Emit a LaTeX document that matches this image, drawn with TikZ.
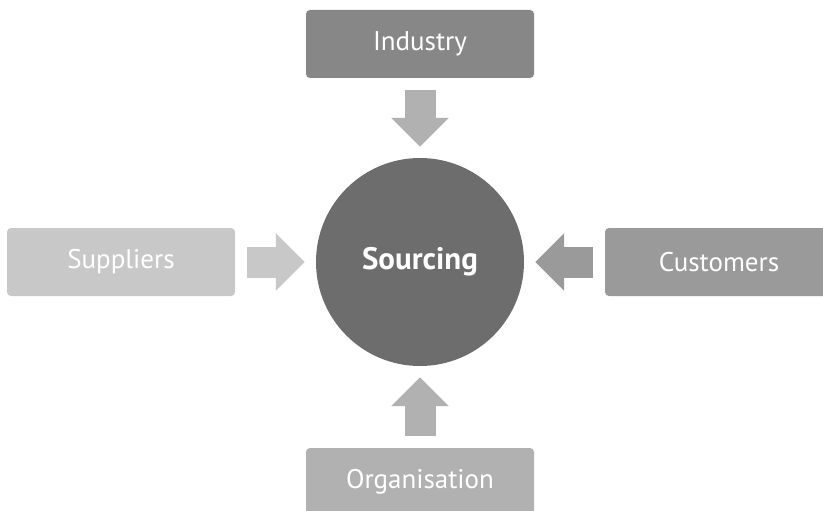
\documentclass[tikz,border=0pt]{standalone}
\usepackage{fontspec}
\setmainfont{PT Sans}
\usetikzlibrary{arrows.meta}

\definecolor{hubgray}{HTML}{6D6D6D}
\definecolor{indgray}{HTML}{878787}
\definecolor{cusgray}{HTML}{9A9A9A}
\definecolor{orggray}{HTML}{B1B1B1}
\definecolor{supgray}{HTML}{C8C8C8}

\tikzset{
	factor/.style={rectangle, rounded corners=4pt, minimum width=228pt, minimum height=68pt,
		inner sep=0pt, text=white, font=\fontsize{27}{32}\selectfont},
	hub/.style={circle, fill=hubgray, minimum size=208pt, inner sep=0pt,
		text=white, font=\fontsize{31}{36}\selectfont\bfseries},
	flow/.style={line width=31pt, -{Triangle[length=29pt, width=56pt]},
		shorten <=12pt, shorten >=11pt}
}

\begin{document}
\begin{tikzpicture}[x=1pt, y=-1pt]
	\useasboundingbox (0, 0) rectangle (823, 511);
	\node[hub] (src) at (420, 262) {Sourcing};
	\node[factor, fill=indgray] (ind) at (420, 44) {Industry};
	\node[factor, fill=supgray] (sup) at (121, 262) {Suppliers};
	\node[factor, fill=cusgray] (cus) at (719, 262) {Customers};
	\node[factor, fill=orggray] (org) at (420, 482) {Organisation};
	\draw[flow, orggray] (ind) -- (src);
	\draw[flow, supgray] (sup) -- (src);
	\draw[flow, cusgray] (cus) -- (src);
	\draw[flow, orggray] (org) -- (src);
\end{tikzpicture}
\end{document}
